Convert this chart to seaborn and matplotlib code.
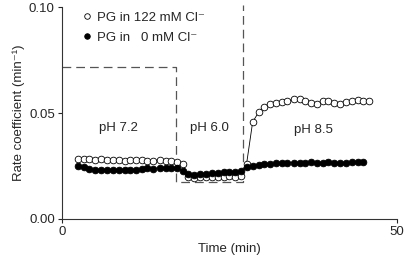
import matplotlib
matplotlib.use('Agg')
import matplotlib.pyplot as plt
import seaborn as sns
from matplotlib.lines import Line2D

# sample times (min)
time_min = [2.4, 3.3, 4.1, 5.0, 5.9, 6.7, 7.6, 8.5, 9.4, 10.2, 11.1, 12.0, 12.8,
            13.7, 14.6, 15.5, 16.3, 17.2, 18.1, 18.9, 19.8, 20.7, 21.5, 22.4,
            23.3, 24.2, 25.0, 25.9, 26.8, 27.6, 28.5, 29.4, 30.2, 31.1, 32.0,
            32.9, 33.7, 34.6, 35.5, 36.3, 37.2, 38.1, 39.0, 39.8, 40.7, 41.6,
            42.4, 43.3, 44.2, 45.0, 45.9]

# PG in 122 mM Cl- (open circles)
rate_122 = [0.0285, 0.0282, 0.0283, 0.0281, 0.0282, 0.0280, 0.0281, 0.0278,
            0.0276, 0.0279, 0.0277, 0.0278, 0.0275, 0.0276, 0.0278, 0.0276,
            0.0272, 0.0268, 0.0258,
            0.0198, 0.0196, 0.0197, 0.0198, 0.0197, 0.0199, 0.0200, 0.0202,
            0.0198, 0.0203,
            0.0262,
            0.0458, 0.0505, 0.0530, 0.0545, 0.0550, 0.0552, 0.0558, 0.0565,
            0.0568, 0.0556, 0.0548, 0.0545, 0.0558, 0.0556, 0.0548, 0.0545,
            0.0552, 0.0558, 0.0562, 0.0556, 0.0556]

# PG in 0 mM Cl- (filled circles)
rate_0 = [0.0248, 0.0246, 0.0238, 0.0232, 0.0230, 0.0233, 0.0230, 0.0232,
          0.0231, 0.0233, 0.0232, 0.0236, 0.0240, 0.0238, 0.0242, 0.0243,
          0.0241, 0.0242, 0.0225,
          0.0212, 0.0210, 0.0213, 0.0212, 0.0215, 0.0217, 0.0220, 0.0222,
          0.0224, 0.0226,
          0.0246, 0.0252, 0.0256, 0.0258, 0.0262, 0.0263, 0.0265, 0.0266,
          0.0266, 0.0265, 0.0266, 0.0267, 0.0266, 0.0266, 0.0267, 0.0266,
          0.0264, 0.0266, 0.0267, 0.0268, 0.0268]

# pH protocol trace (dashed)
protocol_t = [0, 17.1, 17.1, 27.05, 27.05]
protocol_v = [0.072, 0.072, 0.0176, 0.0176, 0.101]

ph_labels = ['pH 7.2', 'pH 6.0', 'pH 8.5']
ph_label_t = [8.4, 22.0, 37.5]
ph_label_v = [0.043, 0.043, 0.042]

sns.set_style('ticks')
plt.rcParams['font.family'] = ['Liberation Sans', 'DejaVu Sans']

fig = plt.figure(figsize=(4.07, 2.60), dpi=100)
ax = fig.add_axes([0.1516, 0.1577, 0.8231, 0.8142])

ax.plot(protocol_t, protocol_v, color='#555555', lw=0.9,
        dashes=(7, 4), clip_on=False, zorder=1)

sns.lineplot(x=time_min, y=rate_122, ax=ax, sort=False, color='black', lw=0.6,
             marker='o', markersize=4.8, markerfacecolor='white',
             markeredgecolor='black', markeredgewidth=0.6, zorder=3)
sns.lineplot(x=time_min[:len(rate_0)], y=rate_0, ax=ax, sort=False,
             color='black', lw=0.6, marker='o', markersize=4.8,
             markerfacecolor='black', markeredgecolor='black',
             markeredgewidth=0.6, zorder=4)

for lab, t, v in zip(ph_labels, ph_label_t, ph_label_v):
    ax.text(t, v, lab, ha='center', va='center', fontsize=9.5)

handles = [Line2D([], [], ls='none', marker='o', ms=4, mfc='white', mec='black', mew=0.6),
           Line2D([], [], ls='none', marker='o', ms=4, mfc='black', mec='black', mew=0.6)]
ax.legend(handles, ['PG in 122 mM Cl\u207b', 'PG in   0 mM Cl\u207b'],
          loc='upper left', bbox_to_anchor=(0.045, 1.01), frameon=False,
          fontsize=9.5, handlelength=0.6, handletextpad=0.4,
          labelspacing=0.55, borderpad=0)

ax.set_xlim(0, 50)
ax.set_ylim(0, 0.10)
ax.set_xticks([0, 50])
ax.set_yticks([0.00, 0.05, 0.10])
ax.set_yticklabels(['0.00', '0.05', '0.10'])
ax.tick_params(labelsize=9.5, length=3, width=0.8, direction='out', pad=2)
ax.set_xlabel('Time (min)', fontsize=9.5, labelpad=4)
ax.set_ylabel('Rate coefficient (min\u207b\u00b9)', fontsize=9.5, labelpad=3)
for s in ['top', 'right']:
    ax.spines[s].set_visible(False)
for s in ['left', 'bottom']:
    ax.spines[s].set_linewidth(0.8)
    ax.spines[s].set_color('#333333')

fig.savefig('out.png', dpi=100)
